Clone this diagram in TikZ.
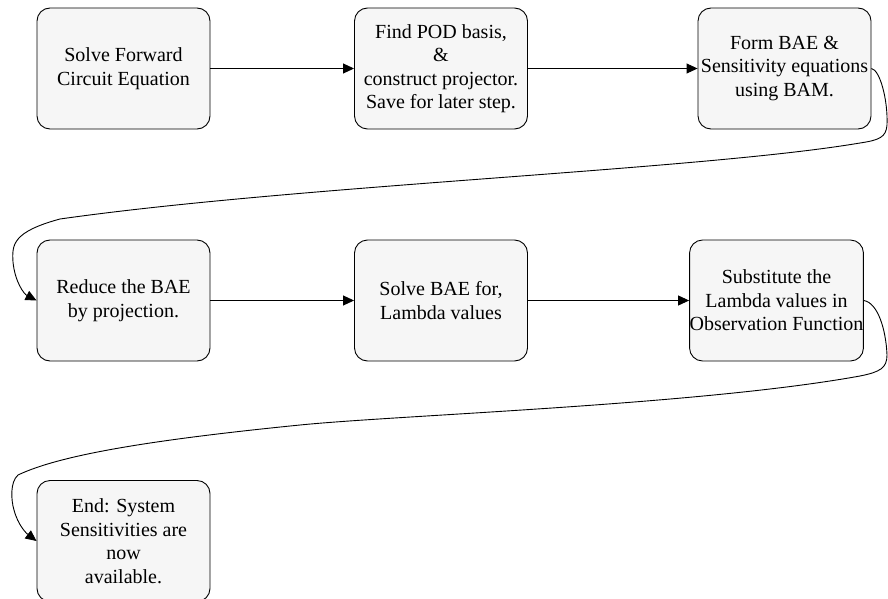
\documentclass[tikz,border=0pt]{standalone}
\usepackage{fontspec}
\setmainfont{Liberation Serif}
\usetikzlibrary{arrows.meta}
\definecolor{boxfill}{HTML}{F6F6F6}
\begin{document}
\begin{tikzpicture}[x=1pt,y=-1pt,
  stepbox/.style={draw=black, line width=0.9pt, fill=boxfill, rounded corners=13pt,
    minimum width=173pt, minimum height=121pt, inner sep=0pt, align=center,
    font=\fontsize{20pt}{23.5pt}\selectfont},
  conn/.style={draw=black, line width=0.9pt, -{Triangle[length=11pt,width=10pt]}}]
\useasboundingbox (0,0) rectangle (888,599);
\node[stepbox] (b1) at (123.5,68.5) {Solve Forward\\Circuit Equation};
\node[stepbox] (b2) at (441,68.5) {Find POD basis,\\\&\\construct projector.\\Save for later step.};
\node[stepbox] (b3) at (784.5,68.5) {Form BAE \&\\Sensitivity equations\\using BAM.};
\node[stepbox] (b4) at (123.5,300.5) {Reduce the BAE\\by projection.};
\node[stepbox] (b5) at (441,300.5) {Solve BAE for,\\Lambda values};
\node[stepbox] (b6) at (776.5,300.5) {Substitute the\\Lambda values in\\Observation Function};
\node[stepbox] (b7) at (123.5,541) {End: System\\Sensitivities are\\now\\available.};
\draw[conn] (b1) -- (b2);
\draw[conn] (b2) -- (b3);
\draw[conn] (b4) -- (b5);
\draw[conn] (b5) -- (b6);
\draw[conn] (b3.east) .. controls (880,70) and (888,100) .. (887,125)
  .. controls (886,137) and (880,140) .. (860,143)
  .. controls (700,170) and (300,185) .. (60,219)
  .. controls (12,232) and (12,245) .. (13,262)
  .. controls (15,282) and (24,294) .. (b4.west);
\draw[conn] (b6.east) .. controls (878,303) and (886,330) .. (887,355)
  .. controls (887,368) and (880,372) .. (860,376)
  .. controls (700,405) and (400,415) .. (300,425)
  .. controls (150,440) and (60,455) .. (18,475)
  .. controls (10,482) and (11,500) .. (14,510)
  .. controls (18,525) and (26,533) .. (b7.west);
\end{tikzpicture}
\end{document}
